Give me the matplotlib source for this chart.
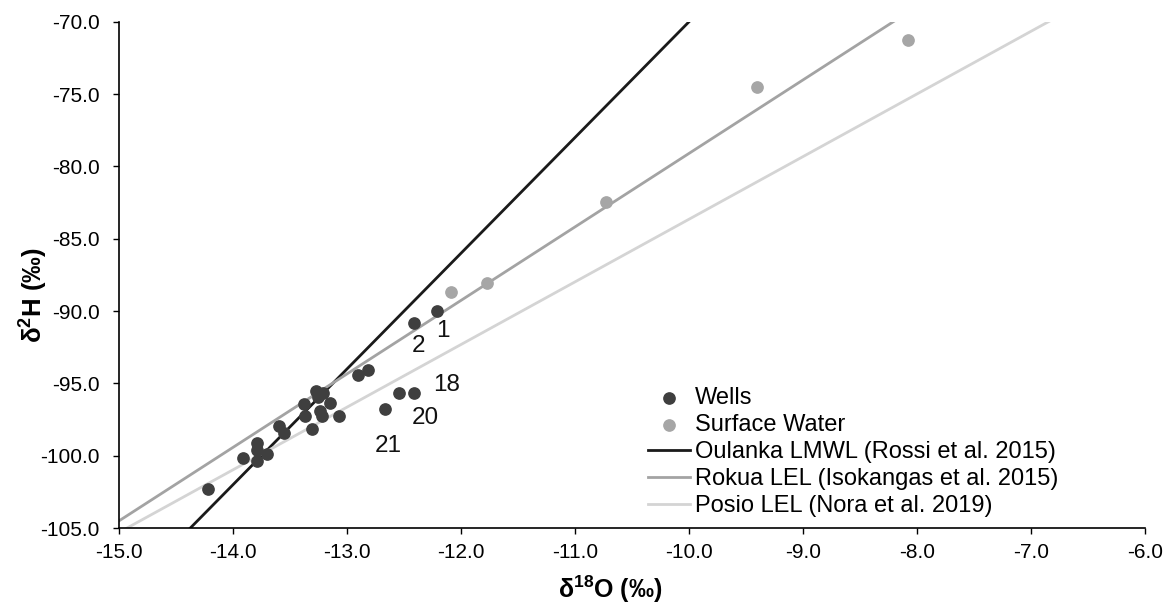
# libraries
import numpy as np
import matplotlib
matplotlib.use("Agg")
import matplotlib.pyplot as plt

plt.rcParams['font.family'] = ['Liberation Sans', 'DejaVu Sans']
plt.rcParams['mathtext.fontset'] = 'custom'
plt.rcParams['mathtext.rm'] = 'Liberation Sans'
plt.rcParams['mathtext.bf'] = 'Liberation Sans:bold'

# wells (d18O, d2H)
wells_o = [-14.22, -13.91, -13.79, -13.79, -13.79, -13.70, -13.60, -13.55, -13.38, -13.37,
           -13.31, -13.27, -13.21, -13.25, -13.24, -13.22, -13.15, -13.07, -12.90, -12.82,
           -12.67, -12.54, -12.41, -12.41, -12.21]
wells_h = [-102.27, -100.13, -99.09, -99.60, -100.36, -99.90, -97.92, -98.45, -96.44, -97.25,
           -98.13, -95.50, -95.63, -95.95, -96.90, -97.25, -96.33, -97.23, -94.41, -94.07,
           -96.76, -95.68, -95.64, -90.80, -89.99]

# surface water
surf_o = [-12.09, -11.77, -10.73, -9.40, -8.08]
surf_h = [-88.69, -88.07, -82.47, -74.47, -71.24]

# reference lines: d2H = slope * d18O + intercept
line_names = ['Oulanka LMWL (Rossi et al. 2015)', 'Rokua LEL (Isokangas et al. 2015)',
              'Posio LEL (Nora et al. 2019)']
line_slopes = [8.0, 5.08, 4.33]
line_intercepts = [10.0, -28.3, -40.35]
line_colors = ['#1a1a1a', '#a3a3a3', '#d4d4d4']

# well labels
label_text = ['1', '2', '18', '20', '21']
label_o = [-12.16, -12.37, -12.13, -12.31, -12.64]
label_h = [-91.4, -92.4, -95.1, -97.4, -99.3]

fig = plt.figure(figsize=(11.67, 6.07), dpi=100)
ax = fig.add_axes([0.102, 0.130, 0.879, 0.834])

xs = np.array([-15.0, -6.0])
for name, k, b, c in zip(line_names, line_slopes, line_intercepts, line_colors):
    ax.plot(xs, k * xs + b, color=c, linewidth=2.0, label=name, zorder=2)

ax.scatter(wells_o, wells_h, s=66, color='#3f3f3f', label='Wells', zorder=3)
ax.scatter(surf_o, surf_h, s=66, color='#a6a6a6', label='Surface Water', zorder=3)

for t, x, y in zip(label_text, label_o, label_h):
    ax.text(x, y, t, fontsize=17.5, ha='center', va='center', color='#111111')

ax.set_xlim(-15, -6)
ax.set_ylim(-105, -70)
ax.set_xticks(np.arange(-15, -5, 1))
ax.set_yticks(np.arange(-105, -69, 5))
ax.xaxis.set_major_formatter(matplotlib.ticker.FormatStrFormatter('%.1f'))
ax.yaxis.set_major_formatter(matplotlib.ticker.FormatStrFormatter('%.1f'))
ax.tick_params(axis='both', direction='out', length=4, width=1, labelsize=15, color='black')
ax.tick_params(axis='x', pad=7)
ax.tick_params(axis='y', pad=10)

for side in ['top', 'right']:
    ax.spines[side].set_visible(False)
for side in ['left', 'bottom']:
    ax.spines[side].set_linewidth(1.2)

# axis titles (delta and per mille signs)
ax.set_xlabel('$\\mathbf{\u03b4^{18}O}$ (\u2030)', fontsize=18, fontweight='bold')
ax.set_ylabel('$\\mathbf{\u03b4^{2}H}$ (\u2030)', fontsize=18.5, fontweight='bold')
ax.xaxis.set_label_coords(0.4786, -0.09)
ax.yaxis.set_label_coords(-0.067, 0.46)

# legend order: points first, then lines
handles, labels = ax.get_legend_handles_labels()
order = [3, 4, 0, 1, 2]
ax.legend([handles[i] for i in order], [labels[i] for i in order],
          loc='upper left', bbox_to_anchor=(0.5156, 0.278), frameon=False,
          fontsize=17, handlelength=1.8, handletextpad=0.2, labelspacing=0.21,
          borderpad=0, borderaxespad=0)

plt.savefig('out.png', dpi=100)
